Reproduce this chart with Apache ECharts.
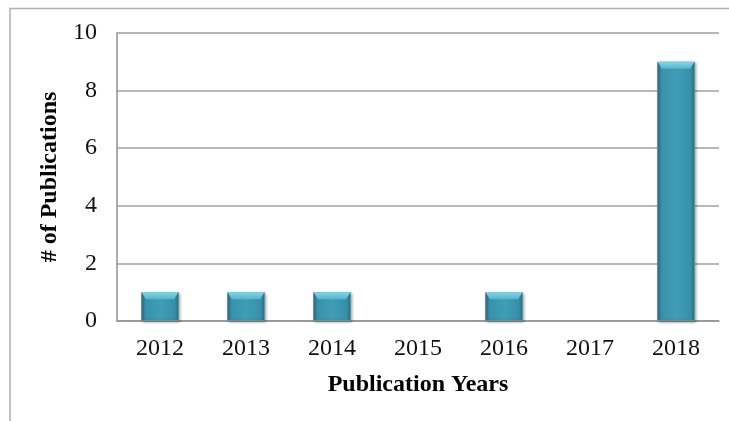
<!DOCTYPE html>
<html>
<head>
<meta charset="utf-8">
<script src="https://cdn.jsdelivr.net/npm/echarts@6/dist/echarts.min.js"></script>
<style>html,body{margin:0;padding:0;background:#fff}#c{width:729px;height:421px}</style>
</head>
<body>
<div id="c"></div>
<script>
const categories = ['2012','2013','2014','2015','2016','2017','2018'];
const publications = [1,1,1,0,1,0,9];
const yTicks = [0,2,4,6,8,10];

const chart = echarts.init(document.getElementById('c'));
const font = 'Liberation Serif, Times New Roman, serif';
const shown = publications.map(v => v > 0 ? v : '-');
chart.setOption({
  animation: false,
  graphic: [{
    type: 'polyline',
    shape: { points: [[10, 421], [10, 8.5], [729, 8.5]] },
    style: { stroke: '#b0b0b0', lineWidth: 1.5, fill: null },
    silent: true
  }],
  grid: { left: 117, top: 33, right: 10, bottom: 100, containLabel: false },
  xAxis: {
    type: 'category',
    data: categories,
    name: 'Publication Years',
    nameLocation: 'middle',
    nameGap: 52,
    nameTextStyle: { fontFamily: font, fontSize: 24, fontWeight: 'bold', color: '#000' },
    axisLine: { lineStyle: { color: '#909090', width: 1.5 } },
    axisTick: { show: false },
    axisLabel: { fontFamily: font, fontSize: 24, color: '#111', margin: 16 }
  },
  yAxis: {
    type: 'value',
    min: yTicks[0],
    max: yTicks[yTicks.length - 1],
    interval: 2,
    name: '# of Publications',
    nameLocation: 'middle',
    nameGap: 54,
    nameRotate: 90,
    nameTextStyle: { fontFamily: font, fontSize: 24, fontWeight: 'bold', color: '#000' },
    axisLine: { show: true, lineStyle: { color: '#909090', width: 1.5 } },
    axisTick: { show: false },
    splitLine: { lineStyle: { color: '#a0a0a0', width: 1.5 } },
    axisLabel: { fontFamily: font, fontSize: 24, color: '#111', margin: 20 }
  },
  series: [{
    type: 'bar',
    data: shown,
    barWidth: 38,
    itemStyle: {
      color: {
        type: 'linear', x: 0, y: 0, x2: 1, y2: 0,
        colorStops: [
          { offset: 0, color: '#2a768b' },
          { offset: 0.12, color: '#3991aa' },
          { offset: 0.5, color: '#3f9db6' },
          { offset: 0.88, color: '#3890a8' },
          { offset: 1, color: '#286f83' }
        ]
      },
      borderColor: '#6a929d',
      borderWidth: 1,
      shadowColor: 'rgba(0,0,0,0.35)',
      shadowBlur: 3,
      shadowOffsetX: 1,
      shadowOffsetY: 1
    }
  }, {
    type: 'pictorialBar',
    data: shown,
    symbol: 'path://M0,0 L100,0 L88,18 L12,18 Z',
    symbolSize: [37, 7],
    symbolPosition: 'end',
    symbolOffset: [0, 0],
    silent: true,
    z: 3,
    itemStyle: {
      color: {
        type: 'linear', x: 0, y: 0, x2: 0, y2: 1,
        colorStops: [
          { offset: 0, color: '#86d6e6' },
          { offset: 1, color: '#55b3c9' }
        ]
      }
    }
  }]
});
</script>
</body>
</html>
